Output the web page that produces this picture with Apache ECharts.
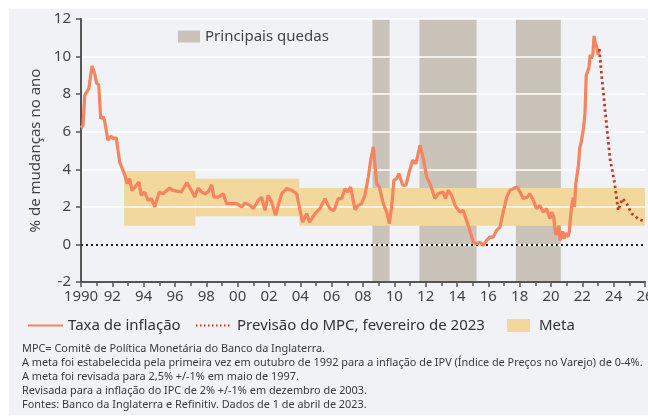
<!DOCTYPE html>
<html>
<head>
<meta charset="utf-8">
<script src="https://cdn.jsdelivr.net/npm/echarts@6/dist/echarts.min.js"></script>
<style>
  html, body { margin: 0; padding: 0; background: #fff; }
  #chart { width: 648px; height: 418px; }
</style>
</head>
<body>
<div id="chart"></div>
<script>
// inflação anual (%), leitura do gráfico
const inflationYears = [
  1990.0, 1990.13, 1990.24, 1990.5, 1990.7, 1990.87, 1991.0, 1991.13, 1991.26, 1991.4,
  1991.5, 1991.72, 1991.9, 1992.04, 1992.25, 1992.47, 1992.8, 1992.95, 1993.1, 1993.25,
  1993.4, 1993.7, 1993.85, 1994.06, 1994.28, 1994.5, 1994.7, 1995.0, 1995.23, 1995.66,
  1995.87, 1996.4, 1996.76, 1997.04, 1997.26, 1997.48, 1997.7, 1997.91, 1998.12, 1998.34,
  1998.49, 1998.76, 1999.08, 1999.3, 1999.62, 1999.94, 2000.26, 2000.47, 2000.79, 2001.0,
  2001.32, 2001.53, 2001.74, 2001.95, 2002.17, 2002.42, 2002.59, 2002.81, 2003.13, 2003.45,
  2003.77, 2003.98, 2004.15, 2004.4, 2004.6, 2004.93, 2005.25, 2005.57, 2005.89, 2006.15,
  2006.42, 2006.64, 2006.85, 2007.02, 2007.21, 2007.49, 2007.7, 2007.91, 2008.12, 2008.34,
  2008.49, 2008.66, 2008.87, 2009.04, 2009.3, 2009.51, 2009.68, 2009.83, 2009.97, 2010.15,
  2010.29, 2010.53, 2010.74, 2010.95, 2011.17, 2011.38, 2011.64, 2011.85, 2012.06, 2012.27,
  2012.59, 2012.8, 2013.12, 2013.27, 2013.44, 2013.66, 2013.87, 2014.19, 2014.4, 2014.61,
  2014.82, 2015.04, 2015.25, 2015.46, 2015.67, 2015.89, 2016.1, 2016.31, 2016.53, 2016.74,
  2016.95, 2017.17, 2017.38, 2017.59, 2017.85, 2018.02, 2018.23, 2018.49, 2018.65, 2018.87,
  2019.08, 2019.29, 2019.5, 2019.72, 2019.93, 2020.04, 2020.17, 2020.25, 2020.33, 2020.42,
  2020.5, 2020.58, 2020.67, 2020.75, 2020.83, 2020.92, 2021.0, 2021.08, 2021.17, 2021.25,
  2021.33, 2021.42, 2021.5, 2021.58, 2021.67, 2021.75, 2021.83, 2021.92, 2022.0, 2022.08,
  2022.17, 2022.25, 2022.33, 2022.42, 2022.5, 2022.58, 2022.67, 2022.75, 2022.83, 2022.92,
  2023.0, 2023.08
];
const inflationValues = [
  6.2, 6.35, 7.95, 8.3, 9.5, 9.1, 8.57, 8.5, 6.7, 6.8,
  6.6, 5.55, 5.76, 5.64, 5.67, 4.39, 3.68, 3.24, 3.5, 2.88,
  3.0, 3.32, 2.61, 2.79, 2.35, 2.44, 1.99, 2.79, 2.7, 3.0,
  2.88, 2.79, 3.29, 2.88, 2.52, 3.0, 2.79, 2.7, 2.79, 3.18,
  2.52, 2.52, 2.7, 2.17, 2.17, 2.17, 1.99, 2.2, 2.08, 1.9,
  2.35, 2.52, 1.81, 2.61, 2.26, 1.55, 2.08, 2.7, 2.97, 2.88,
  2.7, 1.81, 1.19, 1.64, 1.19, 1.64, 1.9, 2.44, 1.9, 1.81,
  2.44, 2.44, 2.97, 2.79, 3.06, 1.85, 2.08, 2.17, 2.61, 3.59,
  4.48, 5.19, 3.24, 3.06, 2.17, 1.72, 1.1, 1.99, 3.41, 3.5,
  3.77, 3.15, 3.15, 3.86, 4.48, 4.3, 5.28, 4.57, 3.59, 3.24,
  2.44, 2.7, 2.79, 2.44, 2.88, 2.61, 2.08, 1.72, 1.81, 1.28,
  0.75, 0.12, 0.04, 0.12, -0.05, 0.21, 0.39, 0.39, 0.75, 0.92,
  1.72, 2.52, 2.88, 2.97, 3.06, 2.79, 2.44, 2.52, 2.7, 2.35,
  1.9, 2.08, 1.72, 1.9, 1.37, 1.72, 1.5, 0.8, 0.5, 0.6,
  1.0, 0.2, 0.5, 0.7, 0.3, 0.6, 0.7, 0.4, 0.7, 1.5,
  2.1, 2.5, 2.0, 3.2, 3.1, 4.2, 5.1, 5.4, 5.5, 6.2,
  7.0, 9.0, 9.1, 9.4, 10.1, 9.9, 10.1, 11.1, 10.7, 10.5,
  10.1, 10.4
];

// previsão do MPC, fevereiro de 2023
const forecastYears = [2023.08, 2023.23, 2023.34, 2023.44, 2023.55, 2023.66, 2023.76, 2023.93,
  2024.08, 2024.19, 2024.29, 2024.4, 2024.57, 2024.83, 2025.15, 2025.57, 2026.0];
const forecastValues = [10.4, 9.0, 8.12, 7.24, 6.35, 5.46, 4.57, 3.86,
  3.15, 2.44, 1.81, 2.08, 2.44, 2.17, 1.64, 1.37, 1.2];

// principais quedas
const recessionStart = [2008.6, 2011.6, 2017.76];
const recessionEnd = [2009.7, 2015.25, 2020.63];

// meta
const metaStart = [1992.75, 1997.3, 2003.93];
const metaEnd = [1997.3, 2003.93, 2026];
const metaLow = [1, 1.5, 1];
const metaHigh = [4, 3.5, 3];

const yMin = -2, yMax = 12;
const xMin = 1990, xMax = 2026;

const footnotes = [
  'MPC= Comitê de Política Monetária do Banco da Inglaterra.',
  'A meta foi estabelecida pela primeira vez em outubro de 1992 para a inflação de IPV (Índice de Preços no Varejo) de 0-4%.',
  'A meta foi revisada para 2,5% +/-1% em maio de 1997.',
  'Revisada para a inflação do IPC de 2% +/-1% em dezembro de 2003.',
  'Fontes: Banco da Inglaterra e Refinitiv. Dados de 1 de abril de 2023.'
];

const FONT = 'Noto Sans';
const chart = echarts.init(document.getElementById('chart'));

const option = {
  backgroundColor: '#fff',
  animation: false,
  textStyle: { fontFamily: FONT },
  graphic: [
    { type: 'rect', z: -10, shape: { x: 9, y: 9, width: 639, height: 406 }, style: { fill: '#f0f2f5' } }
  ].concat(footnotes.map((t, i) => ({
    type: 'text', left: 22, top: 343.5 + i * 14,
    style: { text: t, fill: '#3a3a3a', font: '10.9px ' + FONT }
  }))),
  grid: { left: 81, right: 3, top: 19, bottom: 136, outerBoundsMode: 'none' },
  legend: [
    {
      data: ['Principais quedas'], left: 178, top: 29, padding: 0,
      itemWidth: 22, itemHeight: 12, icon: 'rect',
      textStyle: { fontSize: 15, color: '#444' }
    },
    {
      data: ['Taxa de inflação'], left: 27, top: 318, padding: 0,
      itemWidth: 35, itemHeight: 14, itemStyle: { opacity: 0 },
      textStyle: { fontSize: 15, color: '#333' }
    },
    {
      data: ['Previsão do MPC, fevereiro de 2023'], left: 195, top: 318, padding: 0,
      itemWidth: 36, itemHeight: 14, itemStyle: { opacity: 0 },
      lineStyle: { width: 2, type: [1.5, 2.5] },
      textStyle: { fontSize: 15, color: '#333' }
    },
    {
      data: ['Meta'], left: 507, top: 318, padding: 0,
      itemWidth: 23, itemHeight: 13, icon: 'rect',
      textStyle: { fontSize: 15, color: '#333', padding: [0, 0, 0, 4] }
    }
  ],
  xAxis: {
    type: 'value', min: xMin, max: xMax, interval: 2, z: 3,
    axisLine: { show: true, onZero: false, lineStyle: { color: '#555', width: 2 } },
    axisTick: { show: true, length: 5, lineStyle: { color: '#555', width: 1.5 } },
    minorTick: { show: true, splitNumber: 2, length: 4, lineStyle: { color: '#555', width: 1.5 } },
    splitLine: { show: false },
    axisLabel: {
      color: '#444', fontSize: 15, margin: 7,
      formatter: v => v === 1990 ? '1990' : String(v % 100).padStart(2, '0')
    }
  },
  yAxis: {
    type: 'value', min: yMin, max: yMax, interval: 2, z: 3,
    name: '% de mudanças no ano', nameLocation: 'middle', nameGap: 37,
    nameTextStyle: { fontSize: 15, color: '#444' },
    axisLine: { show: true, lineStyle: { color: '#555', width: 2 } },
    axisTick: { show: true, length: 5, lineStyle: { color: '#555', width: 1.5 } },
    splitLine: { show: true, lineStyle: { color: '#fff', width: 1.5 } },
    axisLabel: { color: '#444', fontSize: 15, margin: 10 }
  },
  series: [
    {
      name: 'Principais quedas', type: 'custom', z: 1,
      itemStyle: { color: '#cac3b9' },
      data: recessionStart.map((s, i) => [s, recessionEnd[i]]),
      renderItem: (params, api) => {
        const p0 = api.coord([api.value(0), yMax]);
        const p1 = api.coord([api.value(1), yMin]);
        return { type: 'rect', shape: { x: p0[0], y: p0[1], width: p1[0] - p0[0], height: p1[1] - p0[1] }, style: { fill: '#cac3b9' } };
      }
    },
    {
      name: 'Meta', type: 'custom', z: 2,
      itemStyle: { color: '#f3d89d' },
      data: metaStart.map((s, i) => [s, metaEnd[i], metaLow[i], metaHigh[i]]),
      renderItem: (params, api) => {
        const p0 = api.coord([api.value(0), api.value(3)]);
        const p1 = api.coord([api.value(1), api.value(2)]);
        return { type: 'rect', shape: { x: p0[0], y: p0[1], width: p1[0] - p0[0], height: p1[1] - p0[1] }, style: { fill: '#f3d89d' } };
      }
    },
    {
      name: 'Taxa de inflação', type: 'line', z: 5, symbol: 'none',
      data: inflationYears.map((y, i) => [y, inflationValues[i]]),
      lineStyle: { color: '#f5845f', width: 3.2 },
      itemStyle: { color: '#f5845f' },
      markLine: {
        silent: true, symbol: 'none', label: { show: false },
        lineStyle: { color: '#222', type: [2, 3], width: 2 },
        data: [{ yAxis: 0 }]
      }
    },
    {
      name: 'Previsão do MPC, fevereiro de 2023', type: 'line', z: 6, symbol: 'none',
      data: forecastYears.map((y, i) => [y, forecastValues[i]]),
      lineStyle: { color: '#c0392b', width: 2.8, type: [2.5, 3] },
      itemStyle: { color: '#c0392b' }
    }
  ]
};

chart.setOption(option);
</script>
</body>
</html>
